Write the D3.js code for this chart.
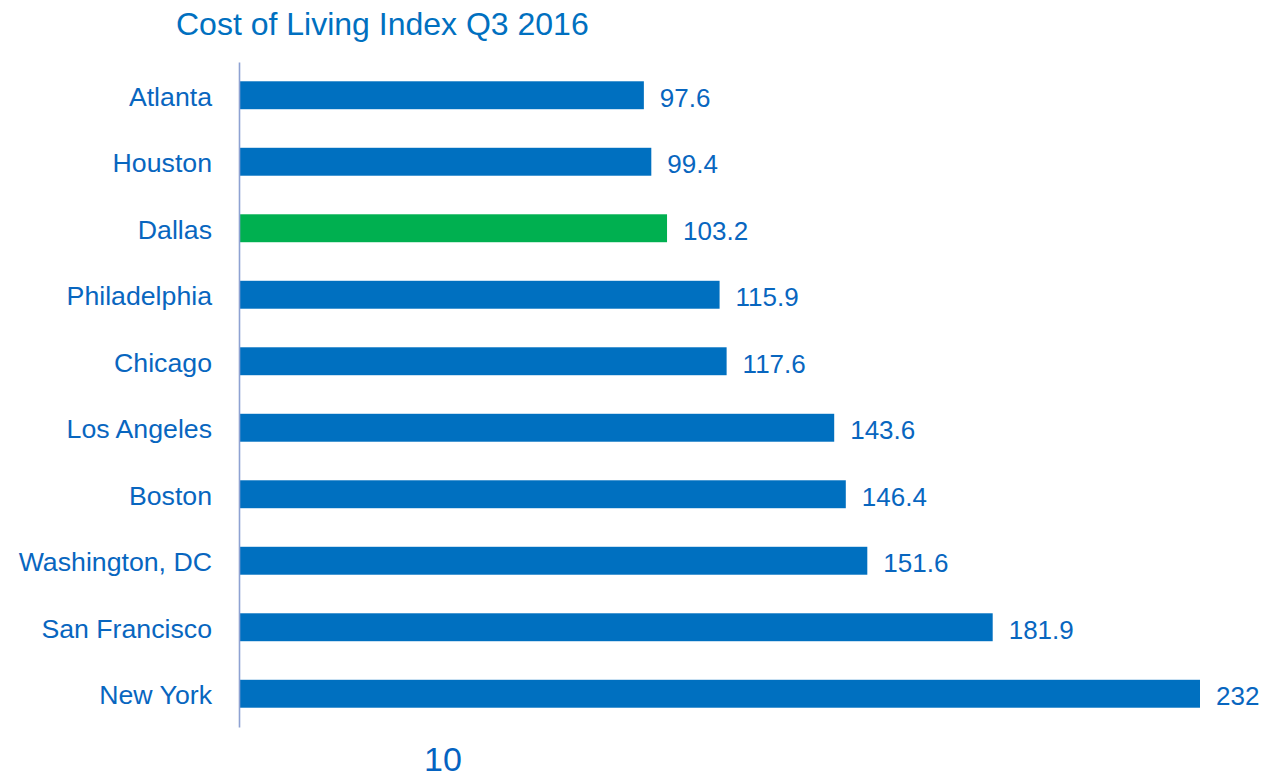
<!DOCTYPE html>
<html>
<head>
<meta charset="utf-8">
<script src="https://cdn.jsdelivr.net/npm/d3@7"></script>
<style>
  body { margin:0; background:#fff; }
  svg text { font-family: "Liberation Sans", Arial, sans-serif; }
</style>
</head>
<body>
<div id="chart"></div>
<script>
var cities = ["Atlanta","Houston","Dallas","Philadelphia","Chicago","Los Angeles","Boston","Washington, DC","San Francisco","New York"];
var values = [97.6, 99.4, 103.2, 115.9, 117.6, 143.6, 146.4, 151.6, 181.9, 232];
var highlight = ["Dallas"];
var axisTick = ["10"];

var width = 1269, height = 779;
var blue = "#0070C0", green = "#00B050", textBlue = "#0866BF";

var svg = d3.select("#chart").append("svg")
    .attr("width", width)
    .attr("height", height);

var xScale = d3.scaleLinear()
    .domain([0, 232])
    .range([240, 1200]);

var yScale = d3.scaleBand()
    .domain(cities)
    .range([62, 727])
    .paddingInner(0.58)
    .paddingOuter(0.29);

// title
svg.append("text")
    .attr("x", 176)
    .attr("y", 35)
    .style("font-size", "32px")
    .style("fill", blue)
    .text("Cost of Living Index Q3 2016");

// bars
svg.selectAll(".bar")
    .data(values)
    .enter()
    .append("rect")
    .attr("class","bar")
    .attr("x", xScale(0))
    .attr("y", (d,i)=>yScale(cities[i]))
    .attr("width", d=>xScale(d)-xScale(0))
    .attr("height", yScale.bandwidth())
    .style("fill", (d,i)=> highlight.indexOf(cities[i]) >= 0 ? green : blue);

// value labels
svg.selectAll(".val")
    .data(values)
    .enter()
    .append("text")
    .attr("class","val")
    .attr("x", d=>xScale(d)+16)
    .attr("y", (d,i)=>yScale(cities[i]) + yScale.bandwidth()/2 + 2)
    .attr("dy", "0.36em")
    .style("font-size", "26px")
    .style("fill", textBlue)
    .text(d=>d);

// y axis
var yAxis = d3.axisLeft(yScale).tickSize(0).tickPadding(27);
var gy = svg.append("g")
    .attr("class","y axis")
    .attr("transform","translate(239,0)")
    .call(yAxis);
gy.select(".domain").attr("stroke", "#8EA2D2").attr("stroke-width", 1.6);
gy.selectAll("text")
    .attr("dy", "0.4em")
    .style("font-size", "26.7px")
    .style("font-family", "'Liberation Sans', Arial, sans-serif")
    .style("fill", textBlue);

// stray tick label below
svg.append("text")
    .attr("x", 424)
    .attr("y", 771)
    .style("font-size", "34px")
    .style("fill", "#0563C1")
    .text(axisTick[0]);
</script>
</body>
</html>
